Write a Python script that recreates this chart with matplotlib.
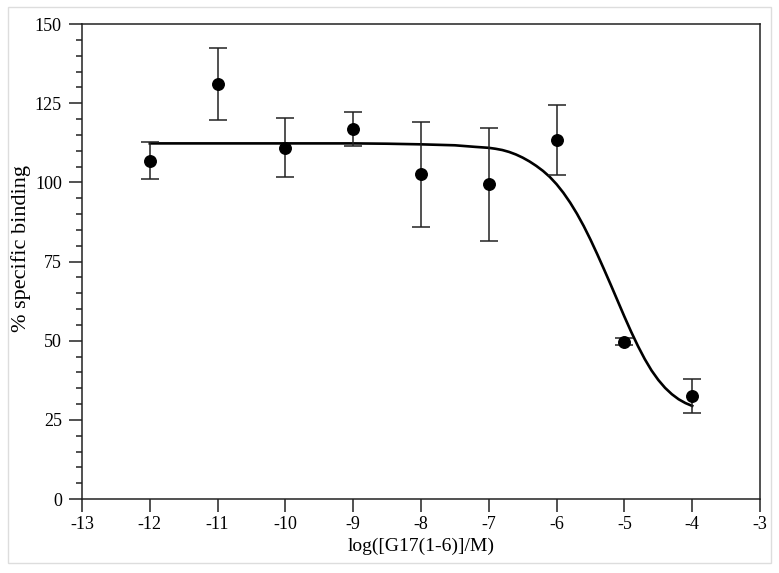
import matplotlib.pyplot as plt
from matplotlib.patches import Rectangle
from matplotlib.ticker import MultipleLocator

# measured points
log_conc = [-12, -11, -10, -9, -8, -7, -6, -5, -4]
binding = [106.8, 130.9, 111.0, 116.8, 102.5, 99.4, 113.3, 49.7, 32.5]
err_low = [100.9, 119.6, 101.8, 111.5, 85.9, 81.6, 102.2, 48.7, 27.1]
err_high = [112.8, 142.3, 120.3, 122.2, 119.1, 117.1, 124.4, 50.7, 37.8]

# fitted curve
fit_x = [-12, -11, -10, -9, -8.5, -8, -7.5, -7.2, -7.0,
         -6.9, -6.8, -6.7, -6.6, -6.5, -6.4, -6.3, -6.2, -6.1, -6.0,
         -5.9, -5.8, -5.7, -5.6, -5.5, -5.4, -5.3, -5.2, -5.1, -5.0,
         -4.9, -4.8, -4.7, -4.6, -4.5, -4.4, -4.3, -4.2, -4.1, -4.0]
fit_y = [112.3, 112.3, 112.3, 112.3, 112.2, 112.0, 111.7, 111.2, 110.9,
         110.6, 110.2, 109.6, 108.8, 107.8, 106.6, 105.2, 103.6, 101.7, 99.4,
         96.7, 93.6, 90.1, 86.2, 81.9, 77.3, 72.5, 67.6, 62.6, 57.6,
         52.8, 48.3, 44.2, 40.6, 37.6, 35.1, 33.1, 31.5, 30.3, 29.4]

plt.rcParams['font.family'] = ['Liberation Serif', 'DejaVu Serif']
plt.rcParams['font.size'] = 13
plt.rcParams['axes.unicode_minus'] = False

fig = plt.figure(figsize=(7.79, 5.73), dpi=100)
ax = fig.add_axes([0.1053, 0.1291, 0.8703, 0.829])

yerr = [[b - l for b, l in zip(binding, err_low)],
        [h - b for b, h in zip(binding, err_high)]]
ax.errorbar(log_conc, binding, yerr=yerr, fmt='o', color='black', ecolor='#222222',
            markersize=8.3, elinewidth=1.1, capsize=6.5, capthick=1.1, zorder=3)
ax.plot(fit_x, fit_y, color='black', linewidth=1.9, zorder=2)

ax.set_xlim(-13, -3)
ax.set_ylim(0, 150)
ax.xaxis.set_major_locator(MultipleLocator(1))
ax.yaxis.set_major_locator(MultipleLocator(25))
ax.yaxis.set_minor_locator(MultipleLocator(5))
ax.tick_params(axis='both', which='major', direction='out', length=9.5, width=1.1, color='#222222')
ax.tick_params(axis='y', which='major', pad=5)
ax.tick_params(axis='x', which='major', pad=3)
ax.tick_params(axis='y', which='minor', direction='out', length=4.6, width=1.1, color='#222222')
for s in ax.spines.values():
    s.set_linewidth(1.1)
    s.set_color('#222222')

ax.set_xlabel('log([G17(1-6)]/M)', fontsize=14)
ax.xaxis.set_label_coords(0.5, -0.082)
ax.set_ylabel('% specific binding', fontsize=16)
ax.yaxis.set_label_coords(-0.075, 0.528)

fig.patches.append(Rectangle((8 / 779, 10 / 573), 763 / 779, 556 / 573, transform=fig.transFigure,
                             fill=False, edgecolor='#dddddd', linewidth=1.0))

fig.savefig('out.png', dpi=100)
